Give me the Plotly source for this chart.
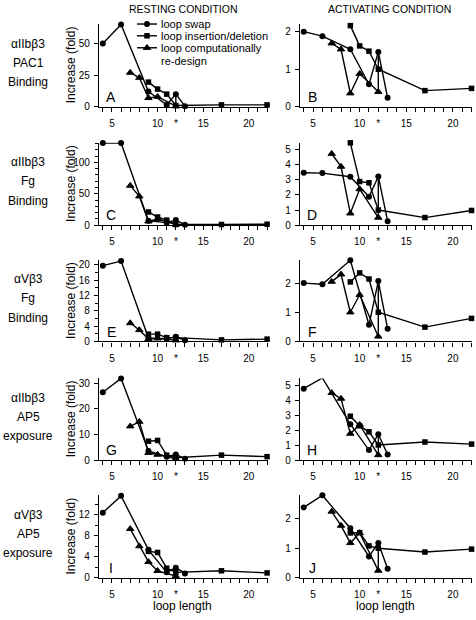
import plotly.graph_objects as go

# ---------------- data ----------------
loop_swap_x = [4, 6, 9, 11, 12, 13]
loop_indel_x = [9, 10, 11, 12, 17, 22]
loop_redesign_x = [7, 8, 9, 10, 12]

swap_A = [50, 65, 12, 1.5, 10, 0.5]
indel_A = [19.5, 14, 10, 1.0, 1.5, 1.5]
redesign_A = [27, 23, 7, 8, 0.5]

swap_B = [2.0, 1.88, 1.53, 0.6, 1.46, 0.24]
indel_B = [2.16, 1.62, 1.48, 1.0, 0.43, 0.49]
redesign_B = [1.69, 1.53, 0.36, 0.88, 0.4]

swap_C = [131, 131, 7, 4, 8, 0.5]
indel_C = [21, 13, 8, 1.0, 1.0, 1.5]
redesign_C = [63, 46, 6, 10, 1.0]

swap_D = [3.46, 3.44, 3.2, 1.88, 3.22, 0.26]
indel_D = [5.44, 2.88, 2.8, 1.0, 0.5, 0.97]
redesign_D = [4.72, 3.87, 0.78, 2.38, 0.5]

swap_E = [19.8, 21.0, 0.9, 0.7, 1.2, 0.3]
indel_E = [1.9, 1.9, 1.0, 1.0, 0.4, 0.6]
redesign_E = [4.8, 3.0, 0.6, 0.8, 0.3]

swap_F = [2.0, 1.96, 2.78, 0.57, 2.07, 0.43]
indel_F = [2.04, 2.35, 2.14, 1.0, 0.49, 0.79]
redesign_F = [2.05, 2.3, 1.0, 1.6, 0.17]

swap_G = [26.4, 31.8, 3.6, 1.4, 2.2, 0.6]
indel_G = [7.4, 7.7, 2.0, 1.0, 2.0, 1.4]
redesign_G = [13.2, 15.0, 2.9, 2.2, 0.5]

swap_H = [4.78, 5.5, 2.41, 0.68, 1.74, 0.38]
indel_H = [2.94, 2.3, 1.9, 1.02, 1.22, 1.08]
redesign_H = [4.5, 4.12, 1.78, 2.38, 0.35]

swap_I = [12.4, 15.6, 5.3, 1.0, 1.9, 0.8]
indel_I = [5.0, 4.8, 1.8, 1.0, 1.3, 0.9]
redesign_I = [9.3, 6.0, 3.0, 1.3, 0.3]

swap_J = [2.39, 2.8, 1.68, 0.72, 1.18, 0.3]
indel_J = [1.52, 1.53, 1.08, 1.0, 0.87, 0.97]
redesign_J = [2.25, 1.77, 1.18, 1.52, 0.24]

panel_letters = ["A", "B", "C", "D", "E", "F", "G", "H", "I", "J"]
row_labels = [
    ["\u03b1IIb\u03b23", "PAC1", "Binding"],
    ["\u03b1IIb\u03b23", "Fg", "Binding"],
    ["\u03b1V\u03b23", "Fg", "Binding"],
    ["\u03b1IIb\u03b23", "AP5", "exposure"],
    ["\u03b1V\u03b23", "AP5", "exposure"],
]
x_tick_vals = [5, 10, 12, 15, 20]
x_tick_text = ["5", "10", "*", "15", "20"]
series_names = ["loop swap", "loop insertion/deletion", "loop computationally", "re-design"]

panels = [
    (swap_A, indel_A, redesign_A), (swap_B, indel_B, redesign_B),
    (swap_C, indel_C, redesign_C), (swap_D, indel_D, redesign_D),
    (swap_E, indel_E, redesign_E), (swap_F, indel_F, redesign_F),
    (swap_G, indel_G, redesign_G), (swap_H, indel_H, redesign_H),
    (swap_I, indel_I, redesign_I), (swap_J, indel_J, redesign_J),
]
y_max = [65.6, 2.21, 131.5, 5.45, 21.2, 2.78, 31.8, 5.47, 15.7, 2.8]
y_dtick = [25, 1, 50, 1, 4, 1, 10, 1, 4, 1]
y_minor = [None, None, 10, None, 2, None, None, None, 2, None]

# ---------------- layout helpers ----------------
W, H = 476, 620
FONT = "Liberation Sans, Arial, sans-serif"
rows_px = [(23, 107), (143.3, 226.7), (262.3, 344.3), (381.7, 464.5), (500, 583.2)]
cols_px = [(99, 268), (300, 472)]
col_range = [[3.58, 22.1], [3.6, 22.05]]
BLACK = "#000000"


def px(x):
    return x / W


def py(y):
    return 1 - y / H


fig = go.Figure()
annotations = []

for i, (sw, ind, red) in enumerate(panels):
    r, c = divmod(i, 2)
    n = i + 1
    xa = "x" if n == 1 else f"x{n}"
    ya = "y" if n == 1 else f"y{n}"
    line = dict(color=BLACK, width=1.4)
    # loop swap
    fig.add_trace(go.Scatter(x=loop_swap_x, y=sw, mode="lines+markers", line=line,
                             marker=dict(symbol="circle", size=6, color=BLACK),
                             xaxis=xa, yaxis=ya, showlegend=False, cliponaxis=False))
    # insertion / deletion
    fig.add_trace(go.Scatter(x=loop_indel_x, y=ind, mode="lines+markers", line=line,
                             marker=dict(symbol="square", size=5.5, color=BLACK),
                             xaxis=xa, yaxis=ya, showlegend=False, cliponaxis=False))
    # computational redesign: line joined to the wild-type-length swap point
    rx = loop_redesign_x + [12]
    ry = red + [sw[4]]
    fig.add_trace(go.Scatter(x=rx, y=ry, mode="lines", line=line,
                             xaxis=xa, yaxis=ya, showlegend=False, cliponaxis=False,
                             hoverinfo="skip"))
    fig.add_trace(go.Scatter(x=loop_redesign_x, y=red, mode="markers",
                             marker=dict(symbol="triangle-up", size=6.5, color=BLACK,
                                         opacity=1, line=dict(color=BLACK, width=1)),
                             xaxis=xa, yaxis=ya, showlegend=False, cliponaxis=False))

    top, bot = rows_px[r]
    left, right = cols_px[c]
    xkey = "xaxis" if n == 1 else f"xaxis{n}"
    ykey = "yaxis" if n == 1 else f"yaxis{n}"
    fig.layout[xkey] = dict(
        domain=[px(left), px(right)], range=col_range[c], anchor=ya,
        showline=True, linecolor=BLACK, linewidth=1.3, mirror=False,
        ticks="outside", ticklen=4, tickwidth=1, tickcolor=BLACK,
        tickvals=x_tick_vals, ticktext=x_tick_text, ticklabelstandoff=3,
        minor=dict(tickvals=list(range(4, 23)), ticks="outside", ticklen=4,
                   tickwidth=1, tickcolor=BLACK, showgrid=False),
        showgrid=False, zeroline=False,
        tickfont=dict(family=FONT, size=10, color=BLACK),
    )
    ycfg = dict(
        domain=[py(bot), py(top)], range=[0, y_max[i]], anchor=xa,
        showline=True, linecolor=BLACK, linewidth=1.3,
        ticks="outside", ticklen=4, tickwidth=1, tickcolor=BLACK,
        tick0=0, dtick=y_dtick[i], showgrid=False, zeroline=False,
        ticklabelstandoff=2,
        tickfont=dict(family=FONT, size=10, color=BLACK),
    )
    if y_minor[i]:
        ycfg["minor"] = dict(dtick=y_minor[i], ticks="outside", ticklen=2.5,
                             tickwidth=1, tickcolor=BLACK, showgrid=False)
    fig.layout[ykey] = ycfg

    # panel letter
    annotations.append(dict(text=panel_letters[i], x=px(left + 12), y=py(bot - 10),
                            xref="paper", yref="paper", showarrow=False,
                            xanchor="center", yanchor="middle",
                            font=dict(family=FONT, size=14, color=BLACK)))
    if c == 0:
        annotations.append(dict(text="Increase (fold)", x=px(71), y=py((top + bot) / 2),
                                xref="paper", yref="paper", showarrow=False, textangle=-90,
                                xanchor="center", yanchor="middle",
                                font=dict(family=FONT, size=12, color=BLACK)))
        mid = (top + bot) / 2
        for k, t in enumerate(row_labels[r]):
            annotations.append(dict(text=t, x=px(28), y=py(mid - 22 + k * 19.5),
                                    xref="paper", yref="paper", showarrow=False,
                                    xanchor="center", yanchor="middle",
                                    font=dict(family=FONT, size=12, color=BLACK)))

# column titles and x titles
annotations.append(dict(text="RESTING CONDITION", x=px(183), y=py(8), xref="paper", yref="paper",
                        showarrow=False, xanchor="center", yanchor="middle",
                        font=dict(family=FONT, size=10.5, color=BLACK)))
annotations.append(dict(text="ACTIVATING CONDITION", x=px(389), y=py(8), xref="paper", yref="paper",
                        showarrow=False, xanchor="center", yanchor="middle",
                        font=dict(family=FONT, size=10.5, color=BLACK)))
for cx in (182, 385):
    annotations.append(dict(text="loop length", x=px(cx), y=py(612), xref="paper", yref="paper",
                            showarrow=False, xanchor="center", yanchor="middle",
                            font=dict(family=FONT, size=12, color=BLACK)))

# ---------------- manual legend (overlay axis in pixel units) ----------------
leg_rows = [23.3, 35.2, 47.3]
leg_symbols = [("circle", 6, 0), ("square", 5.5, 0), ("triangle-up", 6.5, 1)]
for (sym, sz, lw), yy in zip(leg_symbols, leg_rows):
    fig.add_trace(go.Scatter(x=[137, 157], y=[yy, yy], mode="lines",
                             line=dict(color=BLACK, width=1.4),
                             xaxis="x11", yaxis="y11", showlegend=False, cliponaxis=False,
                             hoverinfo="skip"))
    fig.add_trace(go.Scatter(x=[147], y=[yy], mode="markers",
                             marker=dict(symbol=sym, size=sz, color=BLACK,
                                         line=dict(color=BLACK, width=lw)),
                             xaxis="x11", yaxis="y11", showlegend=False, cliponaxis=False,
                             hoverinfo="skip"))
fig.layout["xaxis11"] = dict(domain=[0, 1], range=[0, W], visible=False, anchor="y11", fixedrange=True)
fig.layout["yaxis11"] = dict(domain=[0, 1], range=[H, 0], visible=False, anchor="x11", fixedrange=True)
for t, yy in zip(series_names, leg_rows + [60.5]):
    annotations.append(dict(text=t, x=px(158.5), y=py(yy), xref="paper", yref="paper",
                            showarrow=False, xanchor="left", yanchor="middle",
                            font=dict(family=FONT, size=11, color=BLACK)))

fig.update_layout(
    width=W, height=H, margin=dict(l=0, r=0, t=0, b=0),
    paper_bgcolor="white", plot_bgcolor="rgba(0,0,0,0)",
    showlegend=False, annotations=annotations,
    font=dict(family=FONT, color=BLACK),
)

fig.write_html(
    "out.html",
    config={"displayModeBar": False},
    post_script="document.body.style.margin='0';document.body.style.overflow='hidden';",
)
